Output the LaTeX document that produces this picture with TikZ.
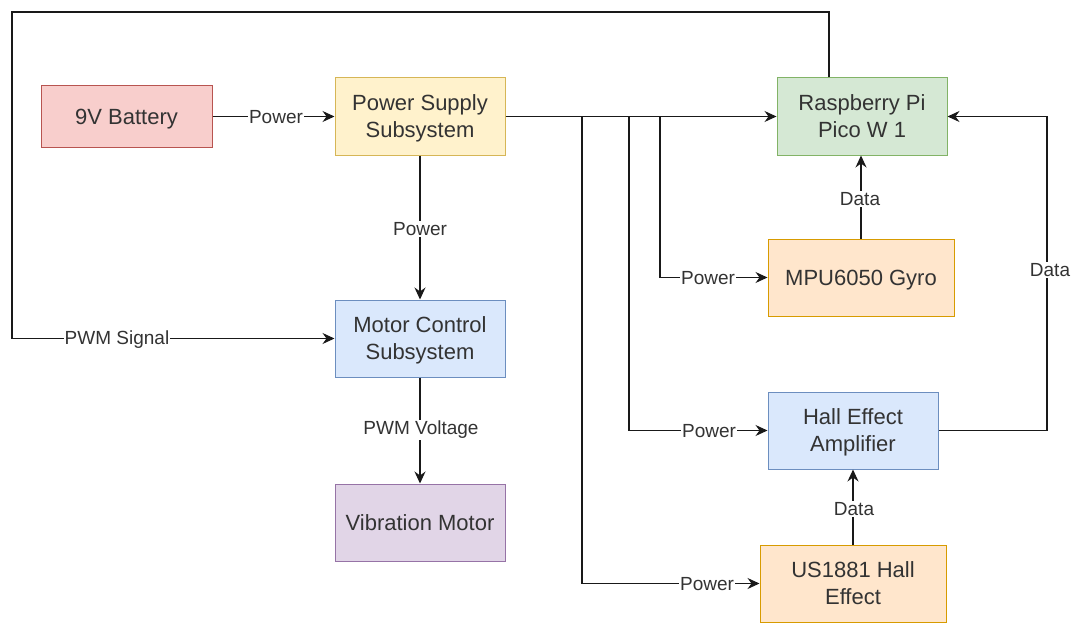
\documentclass[tikz,border=0pt]{standalone}
\usepackage{fontspec}
\setmainfont{Liberation Sans}
\usetikzlibrary{arrows.meta}
\definecolor{redF}{HTML}{F8CECC}\definecolor{redD}{HTML}{B85450}
\definecolor{yelF}{HTML}{FFF2CC}\definecolor{yelD}{HTML}{D6B656}
\definecolor{grnF}{HTML}{D5E8D4}\definecolor{grnD}{HTML}{82B366}
\definecolor{bluF}{HTML}{DAE8FC}\definecolor{bluD}{HTML}{6C8EBF}
\definecolor{purF}{HTML}{E1D5E7}\definecolor{purD}{HTML}{9673A6}
\definecolor{orgF}{HTML}{FFE6CC}\definecolor{orgD}{HTML}{D79B00}
\definecolor{txt}{HTML}{333333}
\tikzset{
  box/.style={draw, line width=1pt, minimum width=170pt, minimum height=77pt, align=center, text=txt, font=\fontsize{22}{27}\selectfont, inner sep=2pt, text depth=0pt},
  lbl/.style={fill=white, text=txt, font=\fontsize{19}{22}\selectfont, inner sep=1pt},
  arr/.style={line width=1.2pt, draw=black!90, -{Stealth[length=12pt,width=11pt,inset=4pt]}},
}
\begin{document}
\begin{tikzpicture}[x=1pt,y=-1pt]
\useasboundingbox (0,0) rectangle (1078,623);
% boxes
\node[box, fill=redF, draw=redD, minimum width=171pt, minimum height=61pt] (bat) at (126.5,116.5) {9V Battery};
\node[box, fill=yelF, draw=yelD] (pss) at (420,116.5) {Power Supply\\Subsystem};
\node[box, fill=grnF, draw=grnD] (pi) at (862,116.5) {Raspberry Pi\\Pico W 1};
\node[box, fill=orgF, draw=orgD, minimum width=186pt] (mpu) at (861,277.5) {MPU6050 Gyro};
\node[box, fill=bluF, draw=bluD] (mcs) at (420,338.5) {Motor Control\\Subsystem};
\node[box, fill=purF, draw=purD] (vib) at (420,522.5) {Vibration Motor};
\node[box, fill=bluF, draw=bluD] (hea) at (853,430.5) {Hall Effect\\Amplifier};
\node[box, fill=orgF, draw=orgD, minimum width=186pt] (us) at (853,583.5) {US1881 Hall\\Effect};
% coordinates
\coordinate (b1) at (582,116.5);
\coordinate (b2) at (629,116.5);
\coordinate (b3) at (660,116.5);
\coordinate (t0) at (829,12);
\coordinate (tl) at (12,12);
\coordinate (rr) at (1047,116.5);
% connectors
\draw[arr] (bat.east) -- (pss.west);
\node[lbl] (l1) at (276,117) {Power};
\draw[arr] (pss.east) -- (pi.west);
\draw[arr] (b1) |- (us.west);
\node[lbl] (l2) at (707,584) {Power};
\draw[arr] (b2) |- (hea.west);
\node[lbl] (l3) at (709,431) {Power};
\draw[arr] (b3) |- (mpu.west);
\node[lbl] (l4) at (708,278) {Power};
\draw[arr] (pss.south) -- (mcs.north);
\node[lbl] (l5) at (420,229) {Power};
\draw[arr] (mcs.south) -- (vib.north);
\node[lbl] (l6) at (421,430) {PWM Voltage};
\draw[arr] (mpu.north) -- (mpu.north |- pi.south);
\node[lbl] (l7) at (860,199) {Data};
\draw[arr] (us.north) -- (hea.south);
\node[lbl] (l8) at (854,509) {Data};
\draw[arr] (hea.east) -| (rr) -- (pi.east);
\node[lbl] (l9) at (1050,270) {Data};
\draw[arr] (t0 |- pi.north) -- (t0) -- (tl) |- (mcs.west);
\node[lbl] (l10) at (117,340) {PWM Signal};
\end{tikzpicture}
\end{document}
